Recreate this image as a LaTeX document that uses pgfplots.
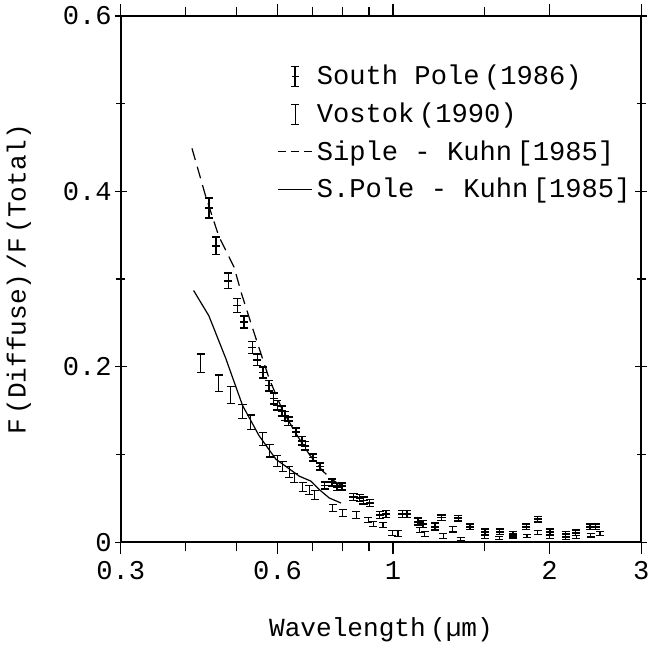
\documentclass[border=0pt]{standalone}
\usepackage{fontspec}
\setmainfont{Liberation Mono}
\usepackage{pgfplots}
\usepackage{pgfplotstable}
\pgfplotsset{compat=1.18}

\pgfdeclareplotmark{spbar}{%
  \pgfpathmoveto{\pgfpoint{0pt}{-5pt}}\pgfpathlineto{\pgfpoint{0pt}{5pt}}%
  \pgfpathmoveto{\pgfpoint{-2pt}{-5pt}}\pgfpathlineto{\pgfpoint{2pt}{-5pt}}%
  \pgfpathmoveto{\pgfpoint{-2pt}{5pt}}\pgfpathlineto{\pgfpoint{2pt}{5pt}}%
  \pgfpathmoveto{\pgfpoint{-1.7pt}{0pt}}\pgfpathlineto{\pgfpoint{1.7pt}{0pt}}%
  \pgfusepathqstroke}
\pgfdeclareplotmark{vobar}{%
  \pgfpathmoveto{\pgfpoint{0pt}{-5pt}}\pgfpathlineto{\pgfpoint{0pt}{5pt}}%
  \pgfpathmoveto{\pgfpoint{-2pt}{-5pt}}\pgfpathlineto{\pgfpoint{2pt}{-5pt}}%
  \pgfpathmoveto{\pgfpoint{-2pt}{5pt}}\pgfpathlineto{\pgfpoint{2pt}{5pt}}%
  \pgfusepathqstroke}

\pgfplotstableread{
x y e
0.443 0.381 0.0115
0.4575 0.338 0.010
0.483 0.298 0.0087
0.5025 0.270 0.008
0.5175 0.251 0.007
0.537 0.222 0.007
0.549 0.208 0.0065
0.563 0.1935 0.0065
0.578 0.1785 0.006
0.590 0.1638 0.006
0.600 0.156 0.0055
0.612 0.1496 0.0055
0.621 0.1439 0.005
0.630 0.1381 0.005
0.651 0.1254 0.005
0.669 0.1157 0.005
0.679 0.110 0.005
0.703 0.0966 0.004
0.724 0.0862 0.004
0.739 0.0646 0.004
0.764 0.0684 0.004
0.780 0.0631 0.004
0.799 0.0638 0.004
0.840 0.0516 0.004
0.863 0.0504 0.004
0.878 0.0477 0.004
0.902 0.0447 0.004
0.943 0.0312 0.004
0.971 0.032 0.004
1.043 0.032 0.004
1.065 0.0323 0.004
1.118 0.0234 0.004
1.144 0.0208 0.004
1.205 0.0177 0.004
1.240 0.028 0.003
1.336 0.0273 0.003
1.407 0.0177 0.003
1.504 0.0119 0.003
1.603 0.0119 0.003
1.701 0.0092 0.003
1.806 0.0177 0.003
1.898 0.0262 0.003
2.002 0.0119 0.003
2.147 0.0092 0.003
2.244 0.0107 0.003
2.392 0.0177 0.003
2.453 0.0177 0.003
}\southpole

\pgfplotstableread{
x y e
0.427 0.2042 0.0104
0.463 0.1811 0.0096
0.488 0.1676 0.0096
0.514 0.1492 0.008
0.533 0.137 0.008
0.562 0.1177 0.007
0.580 0.1042 0.007
0.600 0.0927 0.006
0.614 0.0862 0.006
0.632 0.0800 0.006
0.646 0.0735 0.005
0.671 0.0631 0.005
0.691 0.0592 0.005
0.707 0.0542 0.005
0.767 0.0389 0.004
0.801 0.0331 0.004
0.850 0.0312 0.004
0.896 0.0254 0.003
0.916 0.0208 0.003
0.957 0.0196 0.003
0.998 0.0107 0.003
1.023 0.0100 0.003
1.127 0.0138 0.003
1.152 0.0092 0.003
1.250 0.0069 0.003
1.303 0.0147 0.003
1.35 0.0035 0.002
1.50 0.006 0.002
1.60 0.005 0.002
1.70 0.006 0.002
1.81 0.007 0.002
1.90 0.011 0.002
2.00 0.006 0.002
2.15 0.005 0.002
2.25 0.006 0.002
2.40 0.008 0.002
2.50 0.010 0.002
}\vostok

\pgfplotstableread{
x y
0.414 0.287
0.443 0.258
0.477 0.210
0.514 0.156
0.553 0.1215
0.596 0.0946
0.661 0.0753
0.696 0.0696
0.722 0.060
0.755 0.0504
0.795 0.0447
}\spkuhn

\pgfplotstableread{
x y
0.411 0.449
0.4366 0.3946
0.463 0.3485
0.495 0.3138
0.512 0.283
0.537 0.2446
0.578 0.1869
0.614 0.150
0.651 0.124
0.691 0.100
0.733 0.0811
0.772 0.0696
0.801 0.0638
}\siple

\begin{document}
\begin{tikzpicture}
\begin{axis}[
  scale only axis, width=259pt, height=262pt,
  xmode=log, xmin=0.3, xmax=3, ymin=0, ymax=0.6,
  xtick={0.3,0.6,1,2,3}, xticklabels={0.3,0.6,1,2,3},
  minor xtick={0.4,0.5,0.7,0.8,0.9,1.5},
  ytick={0,0.2,0.4,0.6}, minor ytick={0.1,0.3,0.5},
  xtick align=outside, ytick align=center,
  major tick length=6pt, minor tick length=4.5pt,
  tick style={black, line width=0.6pt},
  axis line style={line width=0.8pt},
  /pgf/number format/assume math mode=true,
  ticklabel style={font=\fontsize{13.5}{16}\selectfont},
  yticklabel style={xshift=2pt},
  label style={font=\fontsize{13}{16}\selectfont},
  xlabel={Wavelength\,(µm)},
  ylabel={F\,(Diffuse)\,/F\,(Total)},
  xlabel style={yshift=-12pt},
  ylabel shift=9pt,
  legend style={draw=none, fill=none, at={(0.30,0.915)}, anchor=north west,
    font=\fontsize{13.5}{16}\selectfont, row sep=3.5pt, inner sep=0pt},
  legend cell align=left,
]
\addplot[black, only marks, mark=-, mark size=2pt, mark options={line width=0.8pt},
  forget plot,
  error bars/.cd, y dir=both, y explicit,
  error bar style={line width=0.8pt, black},
  error mark options={rotate=90, mark size=2pt, line width=0.8pt, black}]
  table[x=x, y=y, y error=e] {\southpole};
\addplot[draw=none, mark=none, forget plot,
  error bars/.cd, y dir=both, y explicit,
  error bar style={line width=0.55pt, draw=black},
  error mark options={rotate=90, mark size=2pt, line width=0.55pt, draw=black}]
  table[x=x, y=y, y error=e] {\vostok};
\addplot[black, line width=0.6pt, dash pattern=on 6pt off 3.5pt, mark=none, forget plot] table[x=x, y=y] {\siple};
\addplot[black, line width=0.6pt, mark=none, forget plot] table[x=x, y=y] {\spkuhn};
\path (rel axis cs:0,1) -- ++(0pt,10.5pt);

\addlegendimage{black, only marks, mark=spbar, line width=0.8pt}
\addlegendentry{South Pole\,(1986)}
\addlegendimage{black, only marks, mark=vobar, line width=0.55pt}
\addlegendentry{Vostok\,(1990)}
\addlegendimage{black, line width=0.6pt, dash pattern=on 4pt off 2.5pt}
\addlegendentry{Siple - Kuhn\,[1985]}
\addlegendimage{black, line width=0.6pt}
\addlegendentry{S.Pole - Kuhn\,[1985]}
\end{axis}
\end{tikzpicture}
\end{document}
